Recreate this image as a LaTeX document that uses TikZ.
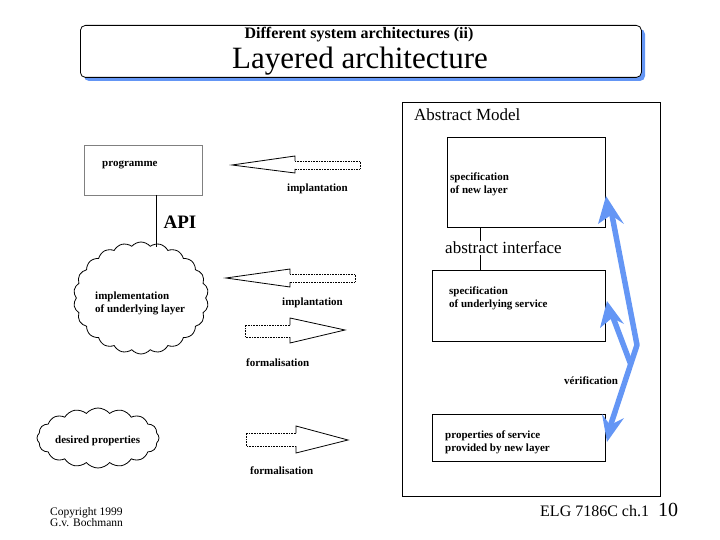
\documentclass[tikz,border=0pt]{standalone}
\usepackage{fontspec}
\setmainfont{Liberation Serif}
\usetikzlibrary{shapes.symbols,decorations.pathmorphing}
\definecolor{vb}{RGB}{100,150,245}
\begin{document}
\begin{tikzpicture}[x=1pt,y=-1pt,
  lab/.style={font=\bfseries\fontsize{11}{13}\selectfont, align=left, inner sep=0pt, anchor=west},
  box/.style={draw, thick, inner sep=0pt},
  hshaft/.style={draw, densely dotted, line width=0.6pt},
  hhead/.style={draw, line width=0.8pt},
  vline/.style={draw=vb, line width=5.5pt, line join=round},
  cloudy/.style={draw, thick, cloud, cloud puffs=22, cloud puff arc=100, inner sep=0pt}]
\useasboundingbox (0,0) rectangle (720,540);
% title
\fill[vb, rounded corners=5pt] (84,29) rectangle (645,81);
\node[draw, thick, fill=white, rounded corners=5pt, minimum width=561pt, minimum height=52pt, anchor=north west] (title) at (80,25) {};
\node[font=\bfseries\fontsize{16}{17}\selectfont] (t1) at (359,35) {Different system architectures (ii)};
\node[font=\fontsize{31}{32}\selectfont] (t2) at (360,61) {Layered architecture};
% abstract model frame
\node[draw, thick, minimum width=258pt, minimum height=394pt, anchor=north west] (am) at (402,102) {};
\node[font=\fontsize{17}{18}\selectfont, anchor=west, inner sep=0pt] (amt) at (414,115) {Abstract Model};
% right boxes
\node[box, minimum width=158pt, minimum height=90pt, anchor=north west] (snl) at (447,137) {};
\node[lab] at (450,184) {specification\\of new layer};
\node[box, minimum width=173pt, minimum height=71pt, anchor=north west] (sus) at (432,270) {};
\node[lab] at (449,298) {specification\\ of underlying service};
\node[box, minimum width=173pt, minimum height=47pt, anchor=north west] (pns) at (432,414) {};
\node[lab] at (445,442) {properties of service\\provided by new layer};
\draw[thick] (snl.south -| 480,0) -- (sus.north -| 480,0);
\node[fill=white, inner sep=1pt, font=\fontsize{17}{18}\selectfont, anchor=west] (ai) at (444,248) {abstract interface};
\node[lab] (ver) at (564,381) {vérification};
% blue arrows
\draw[vline] (609,430) -- (637,345) -- (611,210);
\fill[vb] (606,196) -- (624,224) -- (611,215) -- (598,224) -- cycle;
\fill[vb] (607,442) -- (602,414) -- (610,425) -- (624,418) -- cycle;
\draw[vline] (631,365) -- (611,312);
\fill[vb] (607,301) -- (624,324) -- (612,318) -- (600,328) -- cycle;
% programme
\node[draw=gray, thick, minimum width=118pt, minimum height=50pt, anchor=north west] (prog) at (84,145) {};
\node[lab] at (102,165) {programme};
\node[cloudy, minimum width=135pt, minimum height=112pt] (c1) at (141,298) {};
\draw[thick] (156,195) -- (156,247);
\node[font=\bfseries\fontsize{19}{20}\selectfont] (api) at (180,222) {API};
\node[lab] at (95,303) {implementation\\of underlying layer};
\node[cloudy, minimum width=122pt, minimum height=60pt, cloud puffs=16] (c2) at (98,438) {};
\node[lab] at (55,441) {desired properties};
% hollow arrows
\draw[hshaft] (295,161) -- (360,161) -- (360,169) -- (295,169);
\draw[hhead] (295,161) -- (295,156) -- (232,165) -- (295,173) -- (295,169);
\node[lab] at (287,189) {implantation};
\draw[hshaft] (290,274) -- (355,274) -- (355,282) -- (290,282);
\draw[hhead] (290,274) -- (290,269) -- (226,278) -- (290,287) -- (290,282);
\node[lab] at (282,303) {implantation};
\draw[hshaft] (290,325) -- (245,325) -- (245,337) -- (290,337);
\draw[hhead] (290,325) -- (290,318) -- (345,330) -- (290,343) -- (290,337);
\node[lab] at (246,363) {formalisation};
\draw[hshaft] (296,433) -- (246,433) -- (246,446) -- (296,446);
\draw[hhead] (296,433) -- (296,426) -- (348,440) -- (296,453) -- (296,446);
\node[lab] at (250,471) {formalisation};
% footer
\node[font=\fontsize{11.5}{11}\selectfont, align=left, inner sep=0pt, anchor=north west] (cp) at (50,507) {Copyright 1999\\G.v. Bochmann};
\node[font=\fontsize{16}{17}\selectfont, anchor=west, inner sep=0pt] (elg) at (540,511) {ELG 7186C ch.1};
\node[font=\fontsize{20}{21}\selectfont] (pg) at (668,510) {10};
\end{tikzpicture}
\end{document}
